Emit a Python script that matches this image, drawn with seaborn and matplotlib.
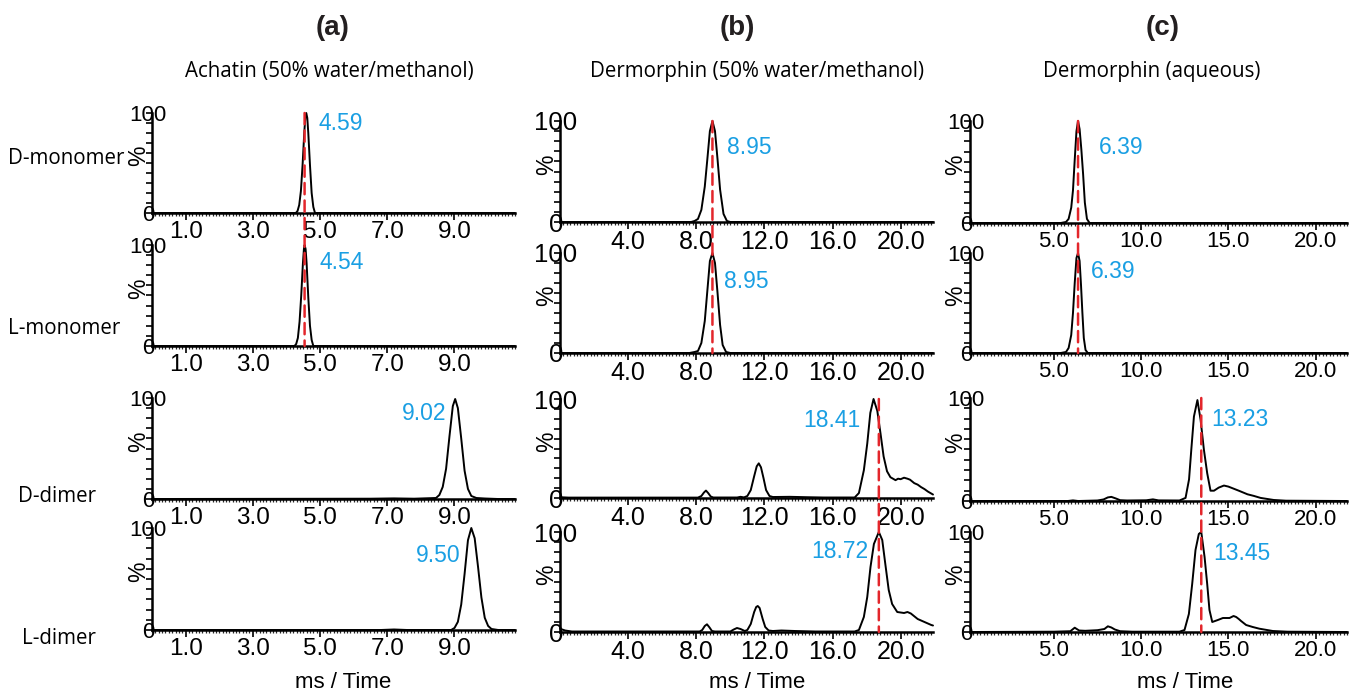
import matplotlib
matplotlib.use("Agg")
import matplotlib.pyplot as plt
import seaborn as sns
from matplotlib.patches import ConnectionPatch
from matplotlib.ticker import MultipleLocator, FixedLocator

sns.set_theme(style="ticks")
plt.rcParams['font.family'] = ['Liberation Sans', 'DejaVu Sans']

# ---------------- text ----------------
col_titles = ["(a)", "(b)", "(c)"]
col_subtitles = ["Achatin (50% water/methanol)",
                 "Dermorphin (50% water/methanol)",
                 "Dermorphin (aqueous)"]
row_names = ["D-monomer", "L-monomer", "D-dimer", "L-dimer"]
x_title = "ms / Time"

# labelled arrival times (rows: D-monomer, L-monomer, D-dimer, L-dimer)
a_peaks = [4.59, 4.54, 9.02, 9.50]
b_peaks = [8.95, 8.95, 18.41, 18.72]
c_peaks = [6.39, 6.39, 13.23, 13.45]

# x tick values per column
a_ticks = [1.0, 3.0, 5.0, 7.0, 9.0]
b_ticks = [4.0, 8.0, 12.0, 16.0, 20.0]
c_ticks = [5.0, 10.0, 15.0, 20.0]

# ---------------- traces (time, relative intensity %) ----------------
a_dmono_t = [0.0, 4.28, 4.33, 4.38, 4.43, 4.48, 4.53, 4.56, 4.59, 4.62, 4.65, 4.70, 4.75, 4.80, 4.85, 10.8]
a_dmono_y = [0, 0, 2, 8, 22, 48, 80, 95, 100, 95, 80, 48, 20, 6, 0, 0]
a_lmono_t = [0.0, 4.24, 4.29, 4.34, 4.39, 4.44, 4.49, 4.52, 4.54, 4.57, 4.60, 4.65, 4.70, 4.75, 4.80, 10.8]
a_lmono_y = [0, 0, 2, 8, 24, 50, 82, 96, 100, 96, 82, 48, 20, 6, 0, 0]
a_ddim_t = [0.0, 6.5, 7.2, 7.8, 8.45, 8.55, 8.65, 8.75, 8.85, 8.95, 9.02, 9.10, 9.20, 9.30, 9.40, 9.50, 9.65, 9.9, 10.3, 10.8]
a_ddim_y = [0, 0.3, 0.6, 0.3, 1, 4, 12, 30, 62, 92, 99, 90, 60, 28, 10, 3, 1, 0.5, 0, 0]
a_ldim_t = [0.0, 6.8, 7.2, 7.6, 8.9, 9.0, 9.1, 9.2, 9.3, 9.4, 9.5, 9.6, 9.7, 9.8, 9.9, 10.0, 10.1, 10.3, 10.8]
a_ldim_y = [0, 0, 0.5, 0, 0, 2, 8, 25, 55, 88, 100, 90, 62, 32, 12, 4, 1, 0, 0]

b_dmono_t = [0.0, 7.7, 7.9, 8.1, 8.3, 8.5, 8.65, 8.8, 8.95, 9.1, 9.25, 9.4, 9.6, 9.8, 10.0, 21.9]
b_dmono_y = [0, 0, 1, 3, 12, 35, 62, 90, 100, 90, 62, 32, 8, 1, 0, 0]
b_lmono_t = [0.0, 7.6, 7.9, 8.1, 8.3, 8.5, 8.65, 8.8, 8.95, 9.1, 9.25, 9.4, 9.55, 9.75, 10.0, 21.9]
b_lmono_y = [0, 0, 1, 2, 10, 32, 62, 92, 100, 90, 60, 28, 8, 1, 0, 0]
b_ddim_t = [0.0, 0.5, 8.1, 8.3, 8.45, 8.57, 8.7, 8.85, 9.0, 10.4, 10.6, 10.8, 11.0, 11.2, 11.4,
            11.55, 11.67, 11.8, 11.95, 12.1, 12.3, 12.5, 13.5, 14.5, 15.5, 17.3, 17.55, 17.84,
            18.04, 18.22, 18.41, 18.63, 18.82, 19.0, 19.2, 19.4, 19.7, 19.85, 20.0, 20.2, 20.4,
            20.55, 20.8, 21.0, 21.2, 21.4, 21.6, 21.9]
b_ddim_y = [0.8, 0.4, 0.4, 2, 5.5, 7.5, 5, 1.5, 0.5, 0.5, 1.2, 0.6, 2, 8, 22,
            32, 35, 31, 20, 8, 2, 1, 1.2, 0.8, 0.5, 0.5, 5, 28,
            55, 86, 100, 88, 65, 42, 27, 21, 18, 19.5, 19, 20.5, 19.5,
            18.5, 15, 13.5, 11, 9, 6.5, 3.5]
b_ldim_t = [0.0, 0.3, 0.7, 8.2, 8.35, 8.5, 8.63, 8.78, 8.92, 9.1, 10.0, 10.2, 10.39, 10.6, 10.85,
            11.0, 11.2, 11.4, 11.52, 11.61, 11.72, 11.9, 12.05, 12.25, 12.5, 13.0, 13.8, 15.0,
            17.3, 17.55, 17.84, 18.04, 18.23, 18.43, 18.72, 18.92, 19.1, 19.3, 19.5, 19.8, 20.0,
            20.2, 20.4, 20.6, 21.0, 21.4, 21.8, 21.9]
b_ldim_y = [3.3, 1.5, 0.5, 0.5, 2, 6, 7.7, 4.5, 1, 0.5, 0.5, 2.5, 4, 3, 1,
            2, 8, 20, 25, 26, 24, 13, 5, 1.5, 1, 1.5, 1, 0.5,
            0.5, 2, 15, 35, 65, 88, 100, 92, 68, 42, 28, 20, 19.5,
            19, 20, 18.5, 13, 10, 7, 6.5]

c_dmono_t = [0.2, 5.4, 5.7, 5.85, 6.0, 6.1, 6.2, 6.3, 6.39, 6.48, 6.58, 6.68, 6.78, 6.9, 7.05, 21.8]
c_dmono_y = [0, 0, 1, 4, 15, 32, 62, 90, 100, 92, 72, 48, 20, 4, 0, 0]
c_lmono_t = [0.2, 5.4, 5.7, 5.85, 6.0, 6.1, 6.2, 6.3, 6.39, 6.48, 6.56, 6.64, 6.72, 6.82, 6.95, 21.8]
c_lmono_y = [0, 0, 1, 5, 18, 40, 70, 95, 100, 92, 68, 40, 15, 3, 0, 0]
c_ddim_t = [0.2, 5.8, 6.1, 6.4, 7.5, 7.85, 8.1, 8.3, 8.55, 8.8, 9.2, 10.3, 10.68, 11.0, 12.2,
            12.55, 12.75, 12.88, 13.03, 13.23, 13.41, 13.6, 13.79, 13.98, 14.18, 14.45, 14.75,
            15.0, 15.3, 15.6, 16.1, 16.45, 16.85, 17.6, 18.3, 21.8]
c_ddim_y = [0, 0, 0.6, 0, 0.5, 1.5, 3.5, 4, 2.5, 0.8, 0.5, 0.7, 1.6, 0.6, 0.5,
            3, 21, 50, 82, 98, 79, 50, 27, 10, 10, 13, 15,
            14, 12, 10, 6.5, 5, 3, 1, 0.3, 0]
c_ldim_t = [0.2, 5.0, 5.95, 6.2, 6.45, 6.8, 7.5, 7.9, 8.1, 8.3, 8.5, 8.8, 9.5, 12.2, 12.49,
            12.74, 12.93, 13.12, 13.31, 13.45, 13.64, 13.79, 13.92, 14.08, 14.4, 14.69, 15.07,
            15.3, 15.45, 15.6, 15.73, 16.02, 16.4, 16.78, 17.55, 18.4, 21.8]
c_ldim_y = [0, 0.3, 0.8, 4.3, 1.5, 1.2, 1.8, 3, 5.7, 4.5, 2.5, 0.8, 0.3, 0.3, 2,
            18, 48, 82, 98, 100, 75, 48, 22, 10, 12, 14, 14,
            16, 15, 13, 11, 7, 5, 3.3, 1, 0.3, 0]

traces = [
    [(a_dmono_t, a_dmono_y), (a_lmono_t, a_lmono_y), (a_ddim_t, a_ddim_y), (a_ldim_t, a_ldim_y)],
    [(b_dmono_t, b_dmono_y), (b_lmono_t, b_lmono_y), (b_ddim_t, b_ddim_y), (b_ldim_t, b_ldim_y)],
    [(c_dmono_t, c_dmono_y), (c_lmono_t, c_lmono_y), (c_ddim_t, c_ddim_y), (c_ldim_t, c_ldim_y)],
]
peaks = [a_peaks, b_peaks, c_peaks]
ticks = [a_ticks, b_ticks, c_ticks]

# ---------------- layout (pixels) ----------------
W, H = 1349, 695
col_x = [(152, 515), (560, 933), (970, 1347)]
col_rows = [
    [(113, 213), (245, 346), (398, 499), (528, 630)],
    [(121, 222), (253, 353), (399, 498), (532, 632)],
    [(121, 223), (253, 353), (398, 501), (532, 632)],
]
xlims = [(0.0, 10.8), (0.0, 21.9), (0.2, 21.8)]
minor_steps = [0.1, 0.2, 0.2]
xtick_size = [17.5, 18, 16]
ytick_size = [16, 18.5, 16]
# annotation offsets (pixels) from each labelled peak apex
label_offsets = [
    [(12, -11, "left"), (15, -18, "left"), (-9, -16, "right"), (-11, -27, "right")],
    [(15, -27, "left"), (12, -28, "left"), (-13, -21, "right"), (-10, -20, "right")],
    [(21, -27, "left"), (13, -18, "left"), (14, -22, "left"), (12, -21, "left")],
]
red_top = [[100, 112], [100, 100], [100, 100]]
title_pos = [(333, 28), (737, 28), (1163, 28)]
subtitle_pos = [(329, 72), (757, 72), (1152, 72)]
xlabel_pos = [(343, 683), (757, 683), (1185, 683)]
rowname_pos = [(8, 158), (8, 328), (18, 497), (22, 638)]

BLUE = "#1a9fe3"
RED = "#e3262b"


def fx(px):
    return px / W


def fy(py):
    return 1 - py / H


fig = plt.figure(figsize=(W / 100, H / 100), dpi=100)
fig.patch.set_facecolor("white")

for c in range(3):
    x0, x1 = col_x[c]
    axes = []
    for r in range(4):
        y0, y1 = col_rows[c][r]
        ax = fig.add_axes([fx(x0), fy(y1), (x1 - x0) / W, (y1 - y0) / H])
        ax.set_facecolor("none")
        t, y = traces[c][r]
        sns.lineplot(x=t, y=y, ax=ax, color="black", linewidth=1.4,
                     estimator=None, sort=False, clip_on=False)
        ax.set_xlim(*xlims[c])
        ax.set_ylim(0, 100)
        for s in ("top", "right"):
            ax.spines[s].set_visible(False)
        for s in ("left", "bottom"):
            ax.spines[s].set_linewidth(1.8)
            ax.spines[s].set_color("black")
        ax.xaxis.set_major_locator(FixedLocator(ticks[c]))
        ax.set_xticklabels([f"{v:.1f}" for v in ticks[c]])
        ax.xaxis.set_minor_locator(MultipleLocator(minor_steps[c]))
        ax.set_yticks(list(range(0, 101, 10)))
        ax.set_yticklabels(["0"] + [""] * 9 + ["100"])
        ax.tick_params(axis="x", which="major", length=5, width=1.2, pad=1.0,
                       labelsize=xtick_size[c], colors="black", direction="out")
        ax.tick_params(axis="x", which="minor", length=2.5, width=0.9, direction="out")
        ax.tick_params(axis="y", which="major", length=4, width=1.2, pad=-1,
                       labelsize=ytick_size[c], colors="black", direction="out")
        for lbl in ax.get_yticklabels():
            lbl.set_horizontalalignment("center")
        ax.set_xlabel("")
        ax.set_ylabel("%", fontsize=16.5, color="black", va="center")
        ax.yaxis.set_label_coords(-0.037, 0.57)
        ax.grid(False)

        dx, dy, ha = label_offsets[c][r]
        ax.annotate(f"{peaks[c][r]:.2f}", xy=(peaks[c][r], 100), xycoords="data",
                    xytext=(dx, dy), textcoords="offset pixels", ha=ha, va="center",
                    fontsize=16.5, color=BLUE)
        axes.append(ax)

    # dashed marker through each D/L pair at the L-form arrival time
    for k, (top, bot) in enumerate([(0, 1), (2, 3)]):
        xv = peaks[c][bot]
        con = ConnectionPatch(xyA=(xv, red_top[c][k]), coordsA="data", axesA=axes[top],
                              xyB=(xv, 0), coordsB="data", axesB=axes[bot],
                              color=RED, linewidth=1.8, linestyle=(0, (4.5, 2.5)), zorder=5)
        fig.add_artist(con)

    axes[3].set_xlabel(x_title, fontsize=16, color="black")
    lx, ly = xlabel_pos[c]
    axes[3].xaxis.set_label_coords((lx - x0) / (x1 - x0),
                                   -(ly - col_rows[c][3][1]) / (col_rows[c][3][1] - col_rows[c][3][0]))
    axes[3].xaxis.label.set_verticalalignment("center")

    tx, ty = title_pos[c]
    fig.text(fx(tx), fy(ty), col_titles[c], ha="center", va="center", fontsize=20,
             fontweight="bold", family=["Liberation Sans Narrow", "Liberation Sans"], color="#231f20")
    sx, sy = subtitle_pos[c]
    fig.text(fx(sx), fy(sy), col_subtitles[c], ha="center", va="center", fontsize=14.8,
             family=["Open Sans", "DejaVu Sans"], color="black")

for name, (px, py) in zip(row_names, rowname_pos):
    fig.text(fx(px), fy(py), name, ha="left", va="center", fontsize=14.8,
             family=["Open Sans", "DejaVu Sans"], color="black")

fig.savefig("out.png", dpi=100, facecolor="white")
